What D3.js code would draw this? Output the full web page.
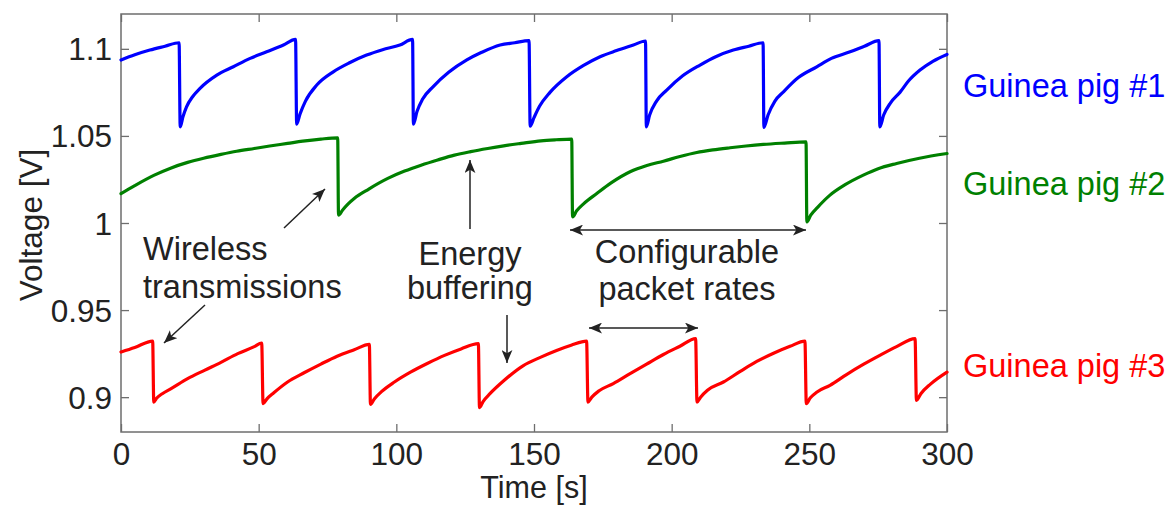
<!DOCTYPE html>
<html>
<head>
<meta charset="utf-8">
<script src="https://cdn.jsdelivr.net/npm/d3@7"></script>
<style>
  html, body { margin: 0; padding: 0; background: #fff; }
  svg { display: block; }
  text { font-family: "Liberation Sans", Arial, sans-serif; }
</style>
</head>
<body>
<svg id="chart" width="1172" height="505"></svg>
<script>
// ---- Data ----
const xTicks = [0, 50, 100, 150, 200, 250, 300];
const yTicks = [0.9, 0.95, 1, 1.05, 1.1];
const yTickLabels = ["0.9", "0.95", "1", "1.05", "1.1"];

const seriesNames = ["Guinea pig #1", "Guinea pig #2", "Guinea pig #3"];
const seriesColors = ["#0000ff", "#008000", "#ff0000"];

const pig1T = [0,5,10.5,16,21.1,21.5,22.5,23.8,26,28.7,34.8,40.8,46.9,52.9,59,63.4,63.8,65,67,71.1,77.1,83,89.2,95,101.3,105.9,106.2,107.5,109.5,113.4,119,125.6,131,137.7,143,148.2,148.6,150,152,155.8,161.9,168,174,180,186.1,190.5,190.8,192,194.5,198.2,204,210.3,216,222.4,228,233.2,233.5,235,237.5,240.6,246,252.7,258,264.8,270,275.3,275.6,277,279.5,282.9,286,290.2,295,300];
const pig1V = [1.0936,1.0966,1.0993,1.1015,1.1035,1.0552,1.0610,1.0667,1.0725,1.0773,1.0849,1.0897,1.0945,1.0983,1.1022,1.1054,1.0568,1.0625,1.0700,1.0792,1.0868,1.0920,1.0964,1.0995,1.1022,1.1054,1.0568,1.0640,1.0710,1.0783,1.0865,1.0936,1.0980,1.1022,1.1035,1.1047,1.0556,1.0605,1.0670,1.0750,1.0840,1.0905,1.0955,1.0990,1.1022,1.1045,1.0552,1.0620,1.0700,1.0763,1.0845,1.0907,1.0955,1.0993,1.1015,1.1035,1.0549,1.0620,1.0700,1.0753,1.0835,1.0897,1.0945,1.0983,1.1015,1.1047,1.0552,1.0620,1.0690,1.0750,1.0815,1.0878,1.0930,1.0968];

const pig2T = [0,5,12.1,18,24.2,30,36.3,42,48.4,54,60.5,66,72.6,78.7,79.0,80.5,82.5,84.7,90,96.9,103,109,115,121.1,127,133.2,139,145.3,152.5,158,163.7,164.0,165.5,168,172.8,178,184.9,191,197,203,209.1,215,221.2,227,233.3,241,248.8,249.1,250.5,253,257.5,263,269.6,275,281.7,290,300];
const pig2V = [1.0169,1.0215,1.0275,1.0315,1.0348,1.0372,1.0394,1.0412,1.0428,1.0442,1.0457,1.0470,1.0482,1.0489,1.0045,1.0075,1.0110,1.0141,1.0195,1.0256,1.0298,1.0332,1.0362,1.0390,1.0410,1.0428,1.0443,1.0457,1.0472,1.0478,1.0482,1.0035,1.0070,1.0110,1.0169,1.0230,1.0294,1.0330,1.0355,1.0382,1.0405,1.0420,1.0432,1.0442,1.0451,1.0459,1.0466,1.0006,1.0045,1.0090,1.0160,1.0220,1.0275,1.0312,1.0342,1.0372,1.0399];

const pig3T = [0,5,11.5,11.9,13,15,18.2,24.2,30.3,36.3,42.4,48.4,51.1,51.6,53,55.5,60.5,66.5,72.6,78.5,84.7,90.2,90.6,92,94.5,99.3,105.3,111.4,117.5,123.5,129.8,130.2,131.5,134,139.2,146,152.5,158.2,163.5,169.1,169.6,171,173.5,178.8,184.9,190.9,197,203,208.7,209.2,210.5,213,218.8,224.9,230.9,237,243,248.4,248.9,250.3,252.8,257.5,263.5,269.6,275.6,281.7,288.4,288.9,290.5,294,300];
const pig3V = [0.9259,0.9285,0.9322,0.8972,0.8995,0.9020,0.9049,0.9106,0.9154,0.9200,0.9250,0.9290,0.9311,0.8963,0.8990,0.9025,0.9087,0.9140,0.9190,0.9235,0.9272,0.9303,0.8959,0.8990,0.9030,0.9087,0.9145,0.9195,0.9240,0.9277,0.9307,0.8940,0.8975,0.9020,0.9097,0.9180,0.9230,0.9268,0.9298,0.9322,0.8972,0.9000,0.9035,0.9078,0.9135,0.9190,0.9245,0.9292,0.9336,0.8972,0.9000,0.9040,0.9087,0.9148,0.9205,0.9252,0.9292,0.9322,0.8963,0.8995,0.9030,0.9068,0.9130,0.9188,0.9240,0.9290,0.9336,0.8982,0.9020,0.9075,0.9144];

const seriesT = [pig1T, pig2T, pig3T];
const seriesV = [pig1V, pig2V, pig3V];

// ---- Layout ----
const svg = d3.select("#chart");
const X0 = 121, X1 = 947, Y0 = 14, Y1 = 432;
const FS = 31.5;      // tick / axis labels
const FS2 = 32.5;     // annotations / series labels
const textColor = "#222";
const axisColor = "#6e6e6e";

const xs = d3.scaleLinear().domain([0, 300]).range([X0, X1]);
const ys = d3.scaleLinear().domain([0.88, 1.12]).range([Y1, Y0]);

// Axes
const gBottom = svg.append("g").attr("transform", `translate(0,${Y1})`)
  .call(d3.axisBottom(xs).tickValues(xTicks).tickFormat(d3.format("d"))
    .tickSizeInner(-8).tickSizeOuter(0).tickPadding(10.5));
const gTop = svg.append("g").attr("transform", `translate(0,${Y0})`)
  .call(d3.axisTop(xs).tickValues(xTicks).tickFormat("").tickSizeInner(-8).tickSizeOuter(0));
const gLeft = svg.append("g").attr("transform", `translate(${X0},0)`)
  .call(d3.axisLeft(ys).tickValues(yTicks).tickFormat((d, i) => yTickLabels[i])
    .tickSizeInner(-8).tickSizeOuter(0).tickPadding(9));
const gRight = svg.append("g").attr("transform", `translate(${X1},0)`)
  .call(d3.axisRight(ys).tickValues(yTicks).tickFormat("").tickSizeInner(-8).tickSizeOuter(0));

[gBottom, gTop, gLeft, gRight].forEach(g => {
  g.select(".domain").remove();
  g.selectAll(".tick line").attr("stroke", axisColor).attr("stroke-width", 1.3);
  g.selectAll(".tick text").attr("fill", textColor).style("font-size", FS + "px")
    .style("font-family", '"Liberation Sans", Arial, sans-serif');
});
gLeft.selectAll(".tick text").attr("dy", "0.35em");

// frame
svg.append("rect").attr("x", X0).attr("y", Y0).attr("width", X1 - X0).attr("height", Y1 - Y0)
  .attr("fill", "none").attr("stroke", axisColor).attr("stroke-width", 1.5);

// Series lines
const lineGen = d3.line().x(d => xs(d[0])).y(d => ys(d[1])).curve(d3.curveMonotoneX);
seriesT.forEach((ts, i) => {
  const pts = ts.map((t, j) => [t, seriesV[i][j]]);
  svg.append("path").datum(pts).attr("d", lineGen)
    .attr("fill", "none").attr("stroke", seriesColors[i])
    .attr("stroke-width", 3.2).attr("stroke-linejoin", "round").attr("stroke-linecap", "round");
});

// Axis labels
svg.append("text").attr("x", (X0 + X1) / 2).attr("y", 498).attr("text-anchor", "middle")
  .attr("fill", textColor).style("font-size", "30.5px").text("Time [s]");
svg.append("text").attr("transform", "translate(42,225) rotate(-90)").attr("text-anchor", "middle")
  .attr("fill", textColor).style("font-size", FS + "px").text("Voltage [V]");

// Legend labels at right
const legendY = [97, 195, 377];
seriesNames.forEach((n, i) => {
  svg.append("text").attr("x", 963).attr("y", legendY[i]).attr("fill", seriesColors[i])
    .style("font-size", FS2 + "px").text(n);
});

// Annotations
const defs = svg.append("defs");
defs.append("marker").attr("id", "ah").attr("viewBox", "0 0 12 10")
  .attr("refX", 12).attr("refY", 5).attr("markerWidth", 13).attr("markerHeight", 11)
  .attr("markerUnits", "userSpaceOnUse").attr("orient", "auto-start-reverse")
  .append("path").attr("d", "M0,0 L12,5 L0,10 L3,5 Z").attr("fill", textColor);

function arrow(x1, y1, x2, y2, both) {
  const l = svg.append("line").attr("x1", x1).attr("y1", y1).attr("x2", x2).attr("y2", y2)
    .attr("stroke", textColor).attr("stroke-width", 1.5).attr("marker-end", "url(#ah)");
  if (both) l.attr("marker-start", "url(#ah)");
}
function label(lines, xx, yy, anchor) {
  lines.forEach((s, i) => {
    svg.append("text").attr("x", xx).attr("y", yy[i]).attr("text-anchor", anchor)
      .attr("fill", textColor).style("font-size", FS2 + "px").text(s);
  });
}

label(["Wireless", "transmissions"], 143, [260, 298], "start");
arrow(284, 228, 325, 189);
arrow(205, 305, 164, 343);

label(["Energy", "buffering"], 470, [265, 299], "middle");
arrow(470, 229, 470, 160);
arrow(507, 315, 507, 363);

label(["Configurable", "packet rates"], 687, [263, 300], "middle");
arrow(570, 230, 806, 230, true);
arrow(589, 328, 698, 328, true);
</script>
</body>
</html>
